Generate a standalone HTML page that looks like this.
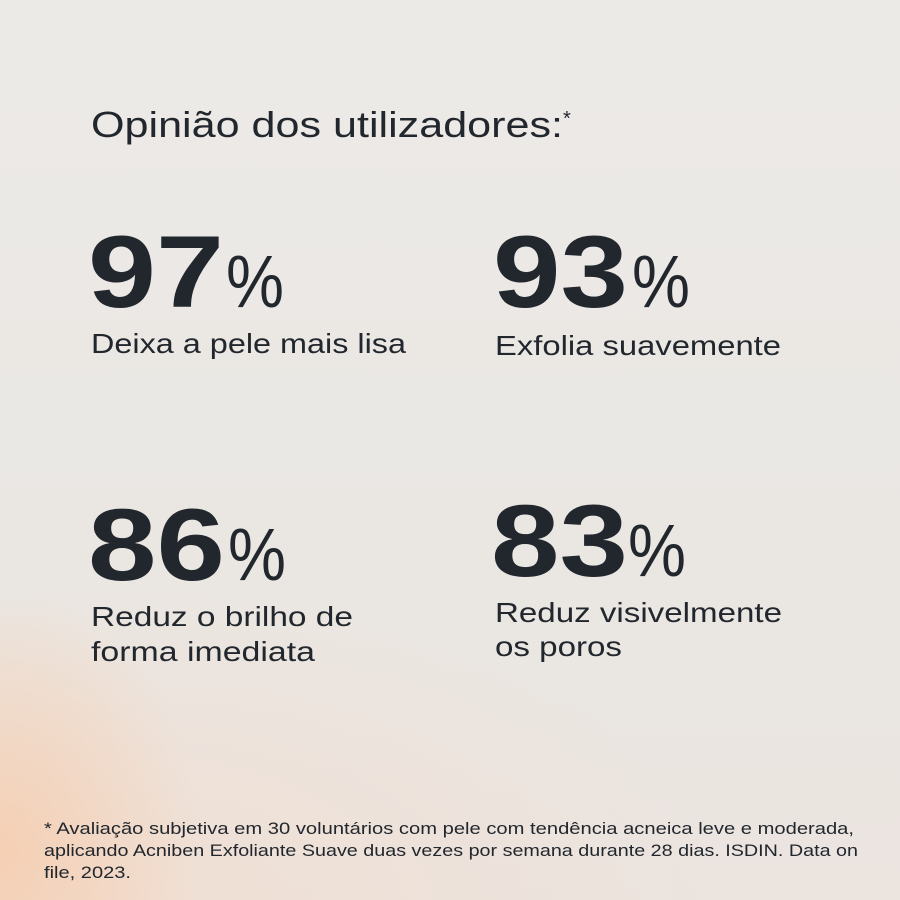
<!DOCTYPE html>
<html><head><meta charset="utf-8"><style>
html,body{margin:0;padding:0;width:900px;height:900px;overflow:hidden}
body{background:
radial-gradient(ellipse 200px 260px at 0px 850px, rgba(248,200,165,0.7), rgba(248,200,165,0) 100%),
radial-gradient(ellipse 600px 350px at 120px 920px, rgba(245,218,200,0.5), rgba(245,218,200,0) 100%),
linear-gradient(180deg,#eceae7 0%,#eae7e3 60%,#ebe4df 100%);}
svg{position:absolute;left:0;top:0}
text{font-family:"Liberation Sans",sans-serif;fill:#22272e}
.b{font-weight:bold;font-size:102px}
.p{font-size:74px}
.l{font-size:28px}
.f{font-size:17px}
</style></head><body>
<svg width="900" height="900">
<text x="91" y="137" font-size="36" textLength="472" lengthAdjust="spacingAndGlyphs">Opinião dos utilizadores:</text>
<text x="563" y="125" font-size="20">*</text>

<text class="b" x="88" y="307" textLength="136" lengthAdjust="spacingAndGlyphs">97</text>
<text class="p" x="226" y="307" textLength="58" lengthAdjust="spacingAndGlyphs">%</text>
<text class="l" x="91" y="353" textLength="315" lengthAdjust="spacingAndGlyphs">Deixa a pele mais lisa</text>

<text class="b" x="493" y="307" textLength="135" lengthAdjust="spacingAndGlyphs">93</text>
<text class="p" x="632" y="307" textLength="58" lengthAdjust="spacingAndGlyphs">%</text>
<text class="l" x="495" y="355" textLength="286" lengthAdjust="spacingAndGlyphs">Exfolia suavemente</text>

<text class="b" x="88" y="580" textLength="137" lengthAdjust="spacingAndGlyphs">86</text>
<text class="p" x="228" y="580" textLength="58" lengthAdjust="spacingAndGlyphs">%</text>
<text class="l" x="91" y="626" textLength="262" lengthAdjust="spacingAndGlyphs">Reduz o brilho de</text>
<text class="l" x="91" y="661" textLength="224" lengthAdjust="spacingAndGlyphs">forma imediata</text>

<text class="b" x="491" y="576" textLength="137" lengthAdjust="spacingAndGlyphs">83</text>
<text class="p" x="628" y="576" textLength="58" lengthAdjust="spacingAndGlyphs">%</text>
<text class="l" x="495" y="622" textLength="287" lengthAdjust="spacingAndGlyphs">Reduz visivelmente</text>
<text class="l" x="495" y="656" textLength="127" lengthAdjust="spacingAndGlyphs">os poros</text>

<text class="f" x="44" y="834" textLength="810" lengthAdjust="spacingAndGlyphs">* Avaliação subjetiva em 30 voluntários com pele com tendência acneica leve e moderada,</text>
<text class="f" x="44" y="856" textLength="814" lengthAdjust="spacingAndGlyphs">aplicando Acniben Exfoliante Suave duas vezes por semana durante 28 dias. ISDIN. Data on</text>
<text class="f" x="44" y="878" textLength="87" lengthAdjust="spacingAndGlyphs">file, 2023.</text>
</svg>
</body></html>
